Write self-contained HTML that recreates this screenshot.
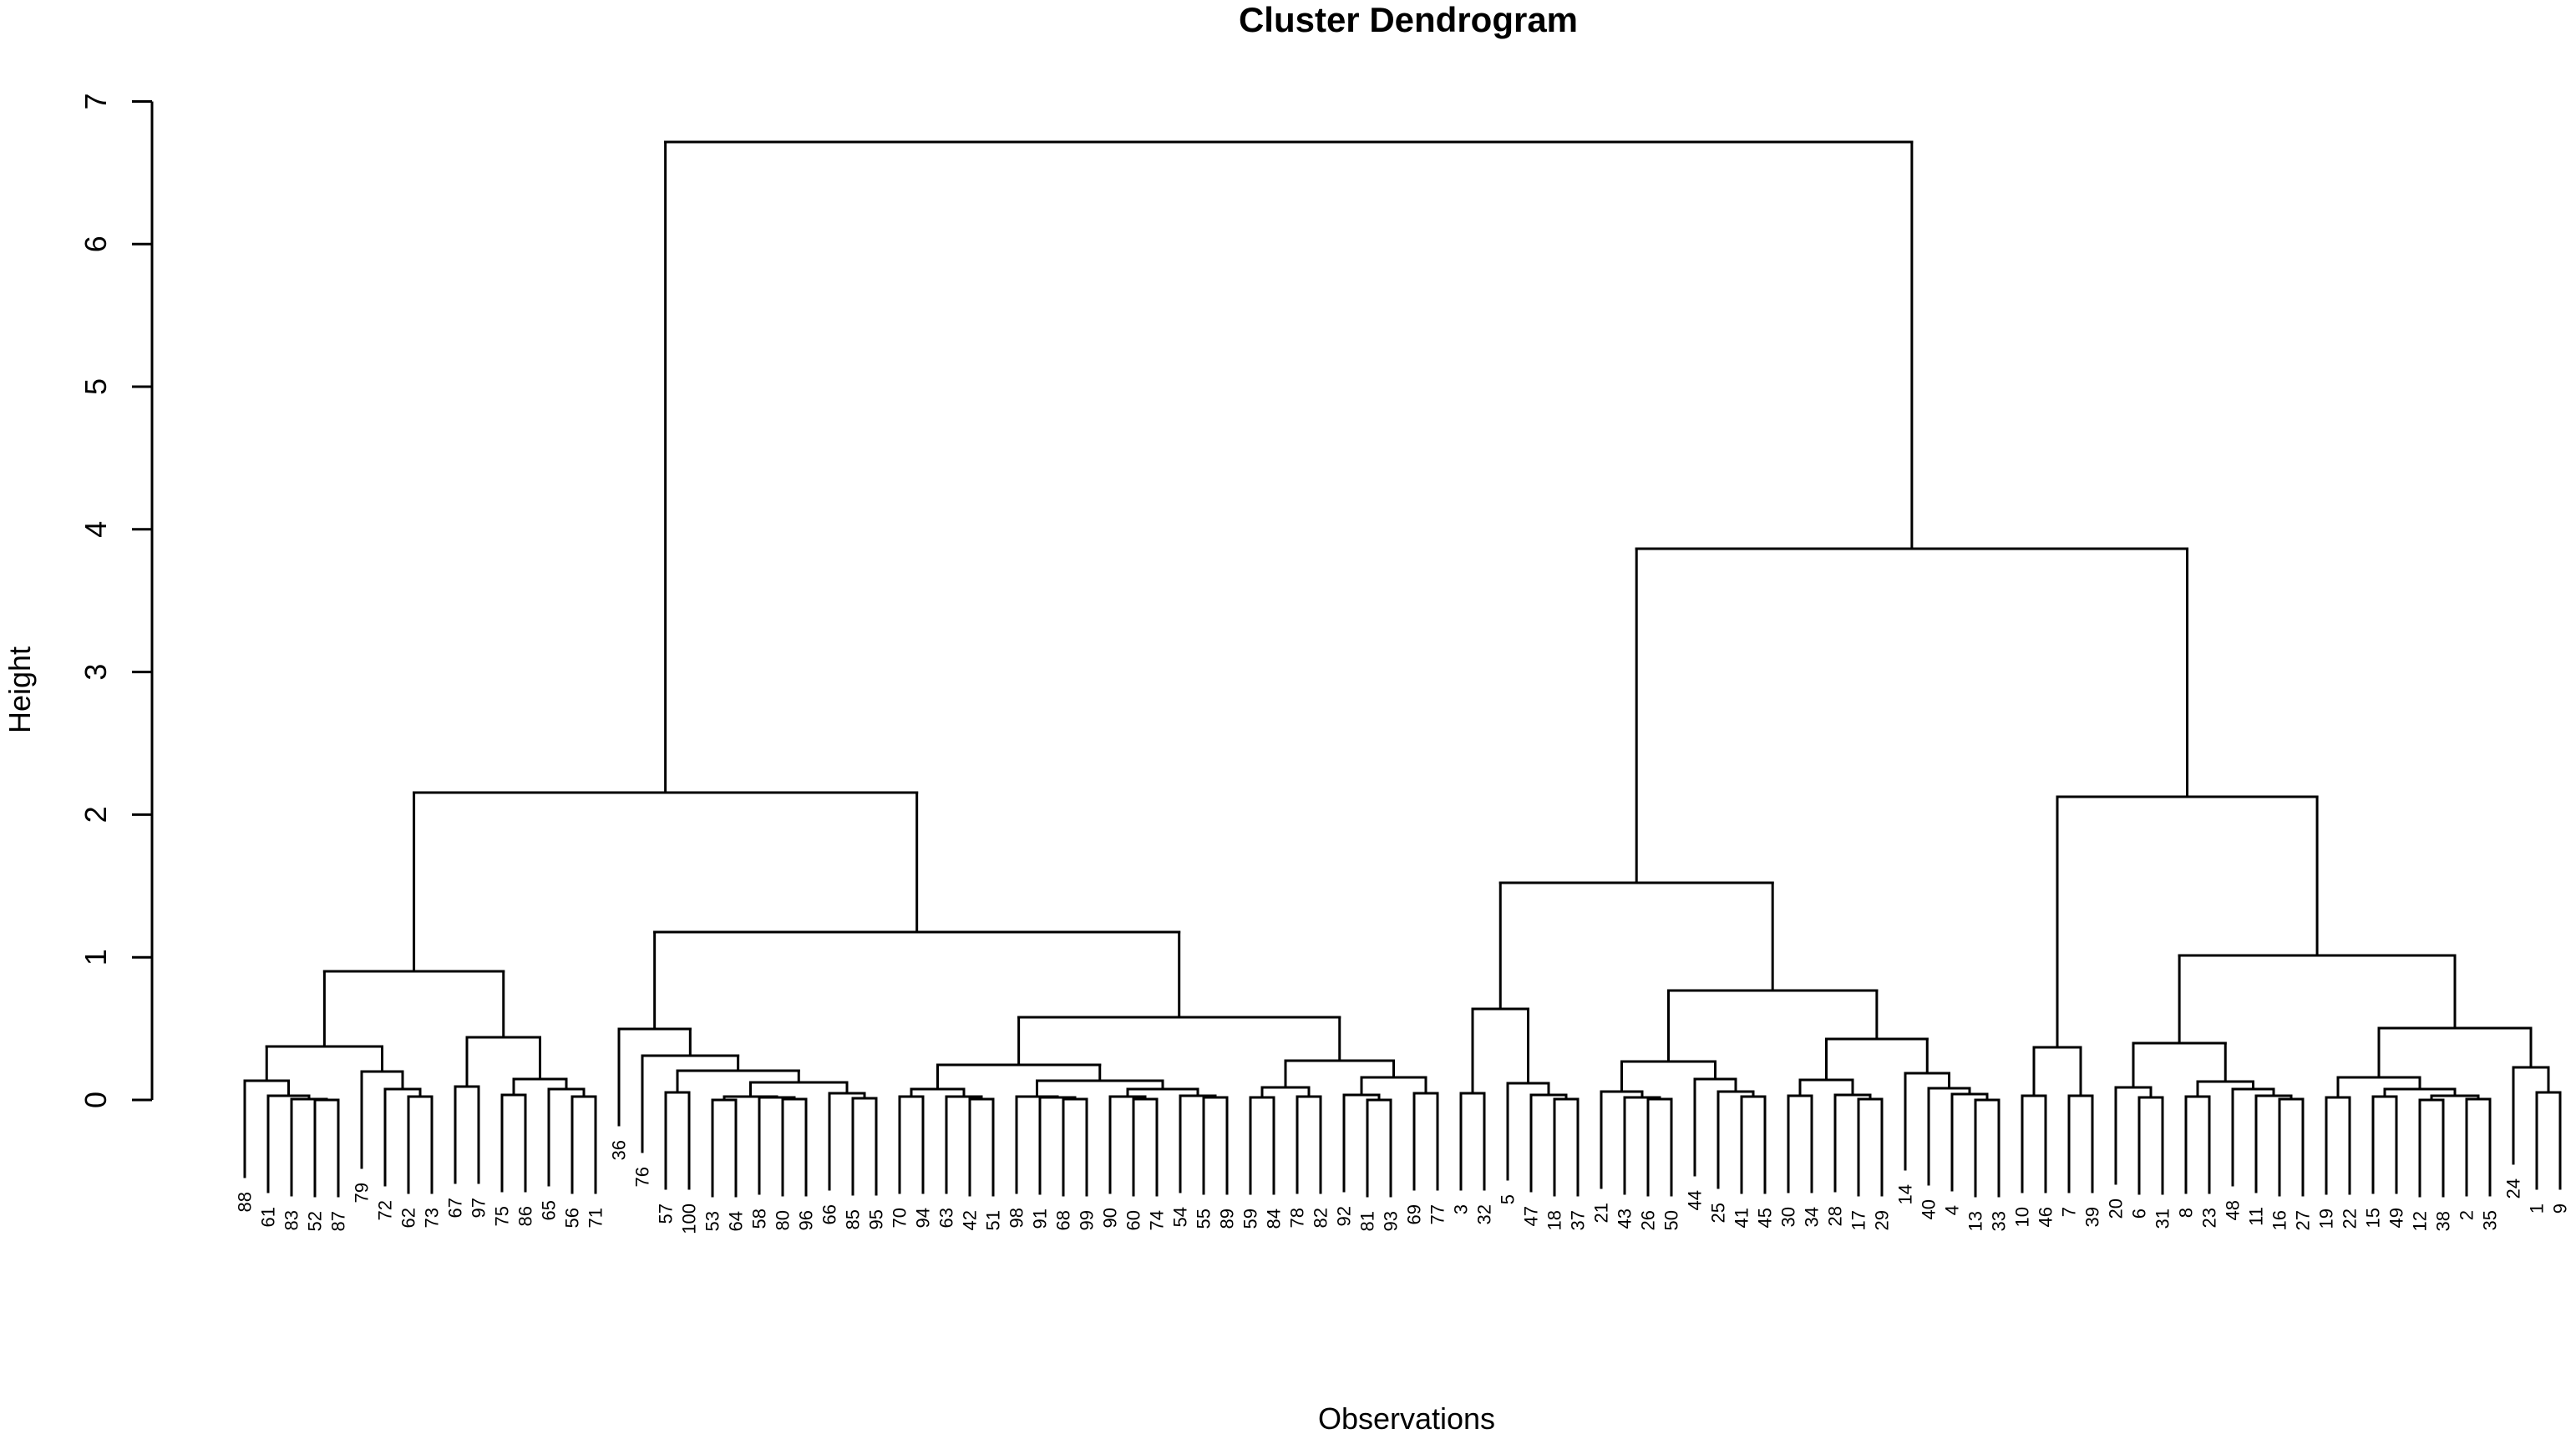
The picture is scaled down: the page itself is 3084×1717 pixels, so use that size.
<!DOCTYPE html>
<html><head><meta charset="utf-8"><style>
html,body{margin:0;padding:0;background:#fff;}
svg{display:block;}
text{font-family:"Liberation Sans",Arial,sans-serif;fill:#000;}
</style></head><body>
<svg id="s" width="3084" height="1717" viewBox="0 0 3084 1717" xmlns="http://www.w3.org/2000/svg">
<text x="1686" y="38" font-size="42" font-weight="bold" text-anchor="middle">Cluster Dendrogram</text>
<text x="1684" y="1711" font-size="36" text-anchor="middle">Observations</text>
<text transform="translate(36,826) rotate(-90)" font-size="36" text-anchor="middle">Height</text>
<g stroke="#000" stroke-width="3" fill="none">
<line x1="182" y1="121.5" x2="182" y2="1317"/>
<line x1="158" y1="1317" x2="182" y2="1317"/>
<line x1="158" y1="1146.2" x2="182" y2="1146.2"/>
<line x1="158" y1="975.4" x2="182" y2="975.4"/>
<line x1="158" y1="804.6" x2="182" y2="804.6"/>
<line x1="158" y1="633.8" x2="182" y2="633.8"/>
<line x1="158" y1="463" x2="182" y2="463"/>
<line x1="158" y1="292.2" x2="182" y2="292.2"/>
<line x1="158" y1="121.5" x2="182" y2="121.5"/>
</g>
<g font-size="36" text-anchor="middle">
<text transform="translate(127,1317) rotate(-90)">0</text>
<text transform="translate(127,1146.2) rotate(-90)">1</text>
<text transform="translate(127,975.4) rotate(-90)">2</text>
<text transform="translate(127,804.6) rotate(-90)">3</text>
<text transform="translate(127,633.8) rotate(-90)">4</text>
<text transform="translate(127,463) rotate(-90)">5</text>
<text transform="translate(127,292.2) rotate(-90)">6</text>
<text transform="translate(127,121.5) rotate(-90)">7</text>
</g>
<g id="tree" stroke="#000" stroke-width="3" fill="none" stroke-linecap="square"></g>
<g id="labels" font-size="22" text-anchor="end">
<text>88</text><text>61</text><text>83</text><text>52</text><text>87</text><text>79</text><text>72</text><text>62</text><text>73</text><text>67</text><text>97</text><text>75</text><text>86</text><text>65</text><text>56</text><text>71</text>
<text>36</text><text>76</text><text>57</text><text>100</text><text>53</text><text>64</text><text>58</text><text>80</text><text>96</text><text>66</text><text>85</text><text>95</text>
<text>70</text><text>94</text><text>63</text><text>42</text><text>51</text>
<text>98</text><text>91</text><text>68</text><text>99</text><text>90</text><text>60</text><text>74</text><text>54</text><text>55</text><text>89</text>
<text>59</text><text>84</text><text>78</text><text>82</text><text>92</text><text>81</text><text>93</text><text>69</text><text>77</text>
<text>3</text><text>32</text><text>5</text><text>47</text><text>18</text><text>37</text>
<text>21</text><text>43</text><text>26</text><text>50</text><text>44</text><text>25</text><text>41</text><text>45</text>
<text>30</text><text>34</text><text>28</text><text>17</text><text>29</text><text>14</text><text>40</text><text>4</text><text>13</text><text>33</text>
<text>10</text><text>46</text><text>7</text><text>39</text>
<text>20</text><text>6</text><text>31</text><text>8</text><text>23</text><text>48</text><text>11</text><text>16</text><text>27</text>
<text>19</text><text>22</text><text>15</text><text>49</text><text>12</text><text>38</text><text>2</text><text>35</text><text>24</text><text>1</text><text>9</text>
</g>
</svg>
<script>
var AB=[["88",["61",["83",["52","87",1317],1316],1312],1294],["79",["72",["62","73",1313],1304],1283],1253];
var C=[["67","97",1301],[["75","86",1311],["65",["56","71",1313],1304],1292],1242];
var L1=[AB,C,1163];
var E=[[["53","64",1317],["58",["80","96",1316],1314],1313],["66",["85","95",1315],1309],1296];
var C36=["36",["76",[["57","100",1308],E,1282],1264],1232];
var F=[["70","94",1313],["63",["42","51",1316],1313],1304];
var G=[["98",["91",["68","99",1316],1314],1313],[["90",["60","74",1316],1313],["54",["55","89",1314],1312],1304],1294];
var H=[[["59","84",1314],["78","82",1313],1302],[["92",["81","93",1317],1311],["69","77",1309],1290],1270];
var FGH=[[F,G,1275],H,1218];
var LEFT=[L1,[C36,FGH,1116],949];
var R1b=[[["21",["43",["26","50",1316],1314],1307],["44",["25",["41","45",1313],1307],1292],1271],[[["30","34",1312],["28",["17","29",1316],1311],1293],["14",["40",["4",["13","33",1317],1310],1303],1285],1244],1186];
var R1=[[["3","32",1309],["5",["47",["18","37",1316],1311],1297],1208],R1b,1057];
var R2=[[["10","46",1312],["7","39",1312],1254],[[["20",["6","31",1314],1302],[["8","23",1313],["48",["11",["16","27",1316],1312],1304],1295],1249],[[["19","22",1314],[["15","49",1313],[["12","38",1317],["2","35",1316],1312],1304],1290],["24",["1","9",1308],1278],1231],1144],954];
var ROOT=[LEFT,[R1,R2,657],170];
var g=document.getElementById('tree'),labs=document.getElementById('labels').getElementsByTagName('text');
var idx=0,NS="http://www.w3.org/2000/svg",HANG=115;
function ln(a,b,c,d){var l=document.createElementNS(NS,'line');l.setAttribute('x1',a);l.setAttribute('y1',b);l.setAttribute('x2',c);l.setAttribute('y2',d);g.appendChild(l);}
function lay(n){ if(typeof n==='string'){var x=293+28*idx;idx++;return {x:x,leaf:true,i:idx-1};} var a=lay(n[0]),b=lay(n[1]);return {x:(a.x+b.x)/2,y:n[2],a:a,b:b};}
function draw(n){ if(n.leaf)return; ln(n.a.x,n.y,n.b.x,n.y);
 [n.a,n.b].forEach(function(c){ if(c.leaf){var yb=n.y+HANG;ln(c.x,n.y,c.x,yb);var t=labs[c.i];t.setAttribute('transform','translate('+c.x+','+(yb+18)+') rotate(-90)');t.setAttribute('dy','0.35em');} else {ln(c.x,n.y,c.x,c.y);draw(c);} });}
draw(lay(ROOT));
</script>
</body></html>
